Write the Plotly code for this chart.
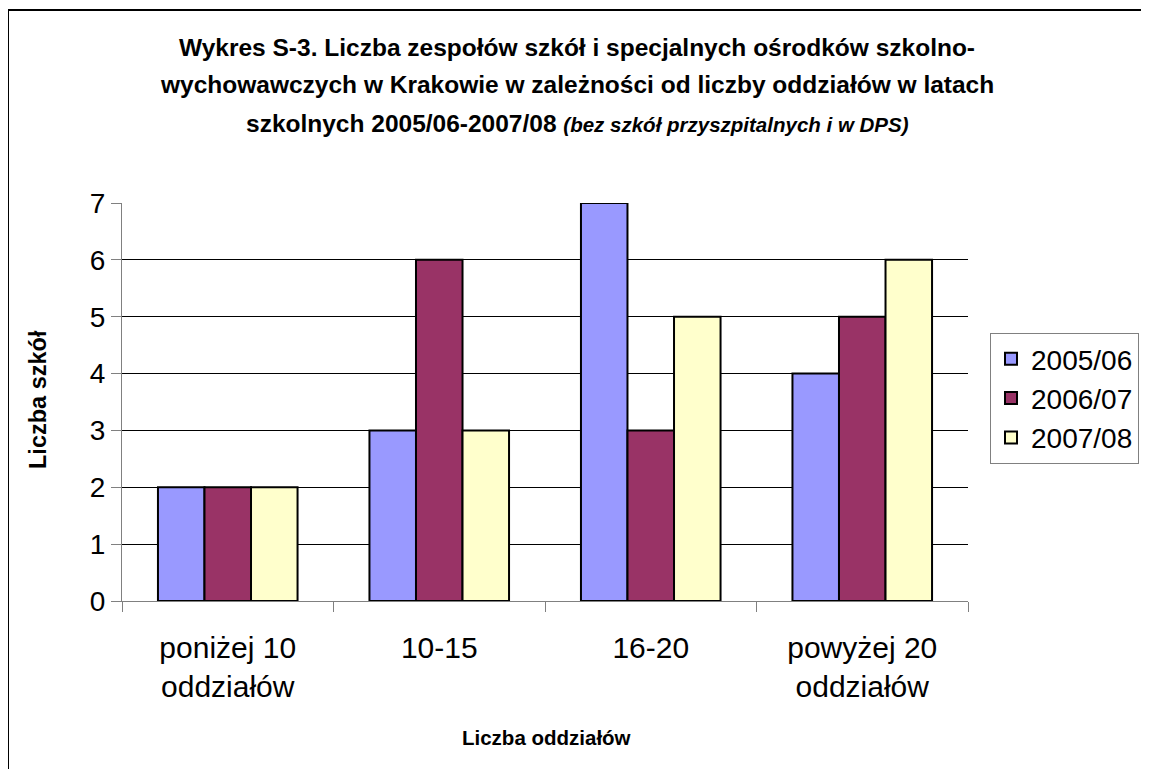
import plotly.graph_objects as go

categories = ["poniżej 10<br>oddziałów", "10-15", "16-20", "powyżej 20<br>oddziałów"]
series_names = ["2005/06", "2006/07", "2007/08"]
values_2005 = [2, 3, 7, 4]
values_2006 = [2, 6, 3, 5]
values_2007 = [2, 3, 5, 6]
colors = ["#9999FF", "#993366", "#FFFFCC"]
y_ticks = [0, 1, 2, 3, 4, 5, 6, 7]
grid_ticks = [1, 2, 3, 4, 5, 6]

FONT = "Liberation Sans, Arial, sans-serif"

# page body has an 8px default margin; work in screen pixels and shift
OFF = 8
W, H = 1149 - OFF, 769 - OFF
L, R, T, B = 122 - OFF, 968 - OFF, 203 - OFF, 601 - OFF


def px_x(x):
    return (x - OFF - L) / (R - L)


def px_y(y):
    return (B - (y - OFF)) / (B - T)


fig = go.Figure()
for name, vals, col in zip(series_names, [values_2005, values_2006, values_2007], colors):
    fig.add_trace(go.Bar(
        x=categories, y=vals, name=name,
        marker=dict(color=col, line=dict(color="black", width=2)),
    ))

# invisible trace to activate the grid axis
fig.add_trace(go.Scatter(x=[categories[0]], y=[0], yaxis="y2", mode="markers",
                         marker=dict(opacity=0), showlegend=False, hoverinfo="skip"))

fig.update_layout(
    width=W, height=H,
    margin=dict(l=L, r=W - R, t=T, b=H - B, autoexpand=False),
    paper_bgcolor="white", plot_bgcolor="white",
    barmode="group", bargap=0.34, bargroupgap=0,
    font=dict(family=FONT, color="black"),
    showlegend=True,
    legend=dict(
        x=px_x(990), y=px_y(333), xanchor="left", yanchor="top",
        bordercolor="#808080", borderwidth=1, bgcolor="white",
        font=dict(size=28, family=FONT),
        itemwidth=30,
    ),
    yaxis=dict(
        range=[0, 7], tickvals=y_ticks, showgrid=False,
        showline=True, linecolor="#808080", linewidth=1,
        ticks="outside", ticklen=10, tickcolor="#808080",
        tickfont=dict(size=28, family=FONT), zeroline=False,
    ),
    yaxis2=dict(
        overlaying="y", range=[0, 7], tickvals=grid_ticks, showgrid=True,
        gridcolor="black", gridwidth=1, showticklabels=False, ticks="",
        showline=False, zeroline=False,
    ),
    xaxis=dict(
        showline=True, linecolor="#808080", linewidth=1,
        ticks="outside", ticklen=10, tickcolor="#808080", tickson="boundaries",
        tickfont=dict(size=30, family=FONT), ticklabelstandoff=20,
    ),
)

title_lines = [
    "<b>Wykres S-3. Liczba zespołów szkół i specjalnych ośrodków szkolno-</b>",
    "<b>wychowawczych w Krakowie w zależności od liczby oddziałów w latach</b>",
    "<b>szkolnych 2005/06-2007/08 </b><b><i><span style='font-size:20.5px'>(bez szkół przyszpitalnych i w DPS)</span></i></b>",
]
for line, yc in zip(title_lines, [47, 85, 123]):
    fig.add_annotation(text=line, xref="paper", yref="paper", x=px_x(577), y=px_y(yc),
                       xanchor="center", yanchor="middle", showarrow=False,
                       font=dict(size=24.5, family=FONT, color="black"))

fig.add_annotation(text="<b>Liczba szkół</b>", xref="paper", yref="paper",
                   x=px_x(38), y=px_y(400), textangle=-90, xanchor="center", yanchor="middle",
                   showarrow=False, font=dict(size=23.5, family=FONT, color="black"))
fig.add_annotation(text="<b>Liczba oddziałów</b>", xref="paper", yref="paper",
                   x=px_x(546), y=px_y(737), xanchor="center", yanchor="middle",
                   showarrow=False, font=dict(size=20.5, family=FONT, color="black"))

# outer chart frame
fig.add_shape(type="line", xref="paper", yref="paper", x0=px_x(8), x1=px_x(8), y0=px_y(10), y1=px_y(790),
              line=dict(color="black", width=2))
fig.add_shape(type="line", xref="paper", yref="paper", x0=px_x(8), x1=px_x(1170), y0=px_y(10), y1=px_y(10),
              line=dict(color="black", width=2))

fig.write_html("out.html")
